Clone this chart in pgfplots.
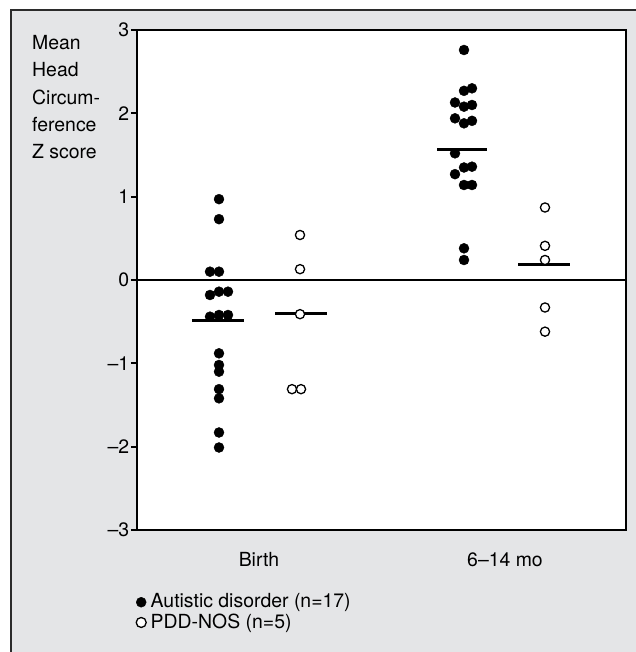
\documentclass[border=0pt]{standalone}
\usepackage{fontspec}
\setmainfont{TeX Gyre Heros}
\usepackage{pgfplots}
\pgfplotsset{compat=1.18}
\definecolor{panel}{HTML}{E4E5E7}
\definecolor{frame}{HTML}{2B2B2B}
\begin{document}
\fontsize{19.5}{23}\selectfont
\begin{tikzpicture}
\useasboundingbox (-137bp,-122bp) rectangle (499bp,530bp);
\fill[panel] (-126bp,-122bp) rectangle (499bp,520bp);
\draw[frame, line width=2bp] (-126bp,-122bp) -- (-126bp,520bp) -- (499bp,520bp);
\begin{axis}[
  scale only axis, width=489bp, height=500bp,
  xmin=137, xmax=626, ymin=-3, ymax=3,
  axis background/.style={fill=white},
  axis line style={line width=2.2bp, black},
  xtick={259,505}, xticklabels={Birth, 6--14 mo},
  ytick={-3,-2,-1,0,1,2,3}, yticklabels={--3,--2,--1,0,1,2,3},
  tick align=outside, ytick pos=left, xtick pos=bottom,
  major tick length=6bp,
  x tick style={draw=none},
  y tick style={line width=2bp, black},
  tick label style={font=\fontsize{19.5}{23}\selectfont},
  xticklabel style={yshift=-10bp},
  yticklabel style={inner sep=1.5bp},
  clip=false,
  legend style={at={(axis description cs:-0.002,-0.124)}, anchor=north west,
    draw=none, fill=none, font=\fontsize{19.5}{23}\selectfont,
    row sep=0bp, inner sep=0pt, nodes={inner sep=1.5bp},
    /tikz/every odd column/.append style={column sep=3bp}},
  legend cell align=left,
  every legend image post/.style={mark size=5bp},
]
\addplot[only marks, mark=*, mark size=5bp, mark options={fill=black, draw=black}]
coordinates {
(219,0.97)(219,0.73)(210,0.10)(219,0.10)(210,-0.18)(219,-0.14)(228,-0.14)
(210,-0.44)(219,-0.42)(228,-0.42)(219,-0.88)(219,-1.02)(219,-1.10)
(219,-1.31)(219,-1.42)(219,-1.83)(219,-2.01)
(464,2.76)(464,2.27)(472,2.30)(455,2.13)(464,2.08)(472,2.10)(455,1.94)
(464,1.88)(472,1.91)(455,1.52)(464,1.35)(472,1.36)(455,1.27)(464,1.14)
(472,1.14)(464,0.38)(464,0.24)
};
\addlegendentry{Autistic disorder (n=17)}
\addplot[only marks, mark=*, mark size=4.6bp, mark options={fill=white, draw=black, line width=1.3bp}]
coordinates {
(300,0.54)(300,0.13)(300,-0.41)(292,-1.31)(301,-1.31)
(545,0.87)(545,0.41)(545,0.24)(545,-0.33)(545,-0.62)
};
\addlegendentry{PDD-NOS (n=5)}
\addplot[forget plot, line width=2bp, black] coordinates {(137,0)(626,0)};
\addplot[forget plot, line width=3bp, black] coordinates {(192,-0.49)(244,-0.49)};
\addplot[forget plot, line width=3bp, black] coordinates {(275,-0.40)(327,-0.40)};
\addplot[forget plot, line width=3bp, black] coordinates {(437,1.57)(487,1.57)};
\addplot[forget plot, line width=3bp, black] coordinates {(518,0.18)(570,0.18)};
\end{axis}
\node[anchor=north west, align=left, inner sep=0pt, font=\fontsize{19.5}{27.5}\selectfont]
  at (-105bp,495bp) {Mean\\Head\\Circum-\\ference\\Z score};
\end{tikzpicture}
\end{document}
